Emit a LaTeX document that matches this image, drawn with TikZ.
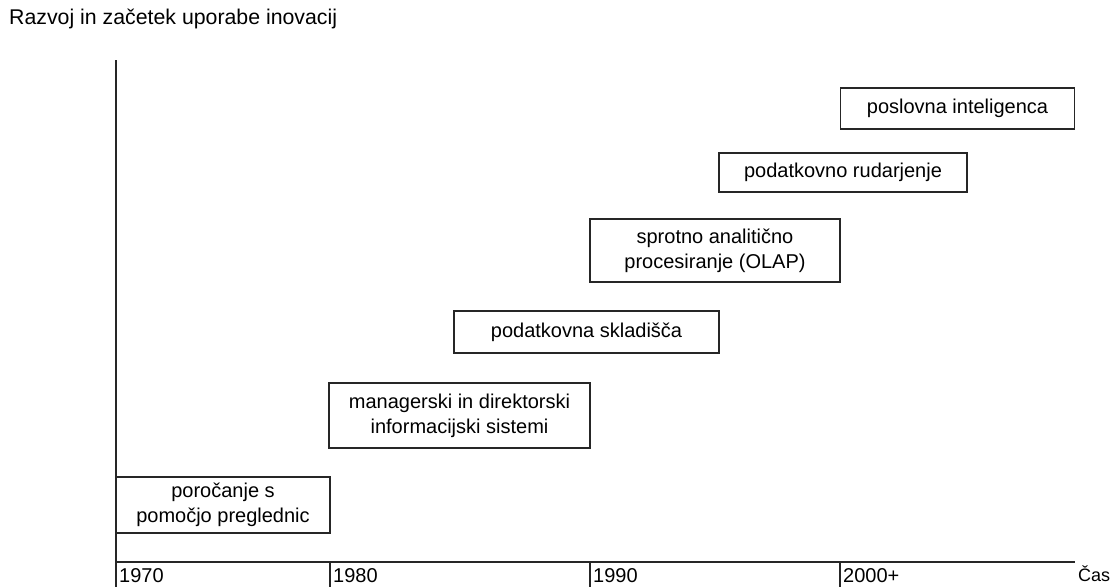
\documentclass[tikz,border=0pt]{standalone}
\usepackage{fontspec}
\setmainfont{Liberation Sans}
\begin{document}
\begin{tikzpicture}[x=1pt,y=-1pt,
  lbl/.style={font=\fontsize{20}{25}\selectfont, inner sep=0pt},
  phase/.style={draw=black!85, line width=1.2pt, inner sep=0pt, align=center,
    font=\fontsize{20}{25}\selectfont},
  axis/.style={draw=black!85, line width=1.2pt}]
\useasboundingbox (0,0) rectangle (1113,587);
\node[lbl, anchor=west, font=\fontsize{21.3}{25}\selectfont] (title) at (9,19) {Razvoj in začetek uporabe inovacij};
% axes
\coordinate (top) at (116,60);
\coordinate (origin) at (116,562);
\coordinate (xend) at (1075,562);
\draw[axis] (top) -- (origin) -- (xend);
\coordinate (t1a) at (330,562); \coordinate (t1b) at (330,587);
\coordinate (t2a) at (590,562); \coordinate (t2b) at (590,587);
\coordinate (t3a) at (840,562); \coordinate (t3b) at (840,587);
\coordinate (t0b) at (116,587);
\draw[axis] (origin) -- (t0b);
\draw[axis] (t1a) -- (t1b);
\draw[axis] (t2a) -- (t2b);
\draw[axis] (t3a) -- (t3b);
\node[lbl, anchor=west] (y70) at (119,576) {1970};
\node[lbl, anchor=west] (y80) at (333,576) {1980};
\node[lbl, anchor=west] (y90) at (593,576) {1990};
\node[lbl, anchor=west] (y00) at (843,576) {2000+};
\node[lbl, anchor=west, font=\fontsize{18}{22}\selectfont] (cas) at (1078,574) {Čas};
% phases
\node[phase, minimum width=214pt, minimum height=56pt] (b1) at (223,505) {poročanje s\\pomočjo preglednic};
\node[phase, minimum width=261pt, minimum height=65pt] (b2) at (459.5,415.5) {managerski in direktorski\\informacijski sistemi};
\node[phase, minimum width=265pt, minimum height=42pt] (b3) at (586.5,332) {podatkovna skladišča};
\node[phase, minimum width=250pt, minimum height=63pt] (b4) at (715,250.5) {sprotno analitično\\procesiranje (OLAP)};
\node[phase, minimum width=248pt, minimum height=39pt] (b5) at (843,172.5) {podatkovno rudarjenje};
\node[phase, minimum width=234pt, minimum height=41pt] (b6) at (957.5,108.5) {poslovna inteligenca};
\end{tikzpicture}
\end{document}
